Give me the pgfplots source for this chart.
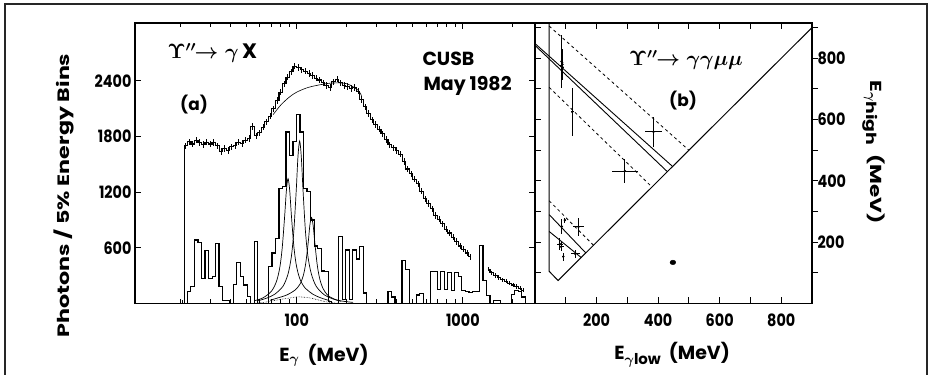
\documentclass[border=0pt]{standalone}
\usepackage{fontspec}
\usepackage{amsmath}
\usepackage{pgfplots}
\usepackage{pgfplotstable}
\pgfplotsset{compat=1.18}
\setmainfont{Poppins}
\newfontfamily\tickfont{Poppins}[FakeStretch=0.85]
\newfontfamily\vfont{Poppins}[FakeStretch=1.35]

% inclusive photon spectrum (bin centres, counts)
\pgfplotstableread{
x y
20.5 0
21.4 1700
22.5 1745
23.6 1720
24.8 1760
26.0 1735
27.3 1715
28.7 1740
30.1 1720
31.6 1735
33.2 1700
34.9 1640
36.6 1670
38.5 1650
40.4 1690
42.4 1705
44.5 1740
46.8 1725
49.1 1760
51.5 1780
54.1 1910
56.8 1810
59.7 1840
62.7 1900
65.8 1960
69.1 2020
72.5 2100
76.2 2190
80.0 2280
84.0 2370
88.2 2440
92.6 2500
97.2 2560
102.1 2545
107.2 2520
112.5 2505
118.2 2480
124.1 2460
130.3 2430
136.8 2410
143.6 2380
150.8 2350
158.4 2330
166.3 2390
174.6 2420
183.3 2380
192.5 2350
202.1 2340
212.2 2320
222.8 2330
234.0 2290
245.7 2200
258.0 2120
270.9 2050
284.4 1980
298.6 1930
313.6 1880
329.2 1830
345.7 1770
363.0 1710
381.1 1680
400.2 1650
420.2 1610
441.2 1530
463.3 1450
486.4 1400
510.7 1340
536.3 1290
563.1 1210
591.3 1130
620.8 1080
651.9 1020
684.5 950
718.7 910
754.6 860
792.4 800
832.0 760
873.6 715
917.3 670
963.1 620
1011.3 585
1061.9 545
1115.0 505
}\specA
\pgfplotstableread{
x y
1423 370
1494 330
1569 300
1647 280
1730 255
1816 240
1907 220
2002 200
2102 185
2208 165
2318 145
}\specB
% background-subtracted histogram (left bin edges, counts)
\pgfplotstableread{
x y
20.9 0
21.9 127
23.0 181
24.2 685
25.4 658
26.7 270
28.0 570
29.4 270
30.9 290
32.4 650
34.0 181
35.7 36
37.5 30
39.4 0
41.4 208
43.4 440
45.6 290
47.9 200
50.3 75
52.8 0
55.5 667
58.2 0
61.1 0
64.2 0
67.4 400
70.8 545
74.3 700
78.0 1243
81.9 1260
86.0 1850
90.3 1600
94.8 1750
99.6 2040
104.5 1850
109.8 1240
115.3 1210
121.0 900
127.1 620
133.4 590
140.1 350
147.1 345
154.5 20
162.2 0
170.3 0
178.8 725
187.8 40
197.2 577
207.0 40
217.4 577
228.2 480
239.6 613
251.6 113
264.2 0
354.1 127
371.8 70
390.4 0
430.4 462
451.9 365
474.5 0
523.1 92
549.3 108
576.8 0
635.9 345
667.7 345
701.1 150
736.1 345
772.9 150
811.6 330
852.1 140
894.8 330
939.5 290
986.5 140
1035.8 130
1087.6 120
1141.9 130
1199.0 130
1259.0 625
1321.9 250
1388.0 90
1457.4 0
1530.3 30
1687.2 0
1953.1 100
2050.7 140
2153.3 130
2261.0 70
2374.0 0
2600.0 0
}\histA
% panel (b) events
\pgfplotstableread{
x y ex ey
86 790 3 86
88 786 3 45
85 775 3 40
90 770 3 35
89 780 2 50
121 625 5 78
385 560 28 48
292 432 43 40
87 251 5 25
97 272 4 8
141 250 17 29
81 194 11 21
85 185 8 15
92 153 3 13
131 162 14 14
}\eventsB

\begin{document}
\begin{tikzpicture}
\path[use as bounding box] (0,0) rectangle (933bp,375bp);
\draw[line width=1.2bp, black!85] (5bp,0) -- (5bp,371bp) -- (927bp,371bp) -- (927bp,0);

\begin{axis}[
  at={(135bp,71.5bp)}, anchor=south west,
  scale only axis, width=400bp, height=280.5bp,
  xmode=log, xmin=10.6, xmax=2720, ymin=0, ymax=3025,
  xtick={100,1000}, xticklabels={100,1000},
  minor xtick={20,30,40,50,60,70,80,90,200,300,400,500,600,700,800,900,2000},
  ytick={600,1200,1800,2400},
  tick align=inside,
  major tick length=6bp, minor tick length=4.5bp,
  axis line style={line width=1.2bp},
  tick style={line width=1bp, black},
  /pgf/number format/1000 sep={},
  /pgf/number format/assume math mode=true,
  tick label style={font=\tickfont\bfseries\fontsize{17}{17}\selectfont},
  xticklabel style={yshift=-7bp},
  xlabel={E$_{\boldsymbol{\gamma}}$\ \ (MeV)},
  xlabel style={at={(axis description cs:0.4725,-0.184)}, anchor=center, font=\bfseries\fontsize{19}{19}\selectfont},
  ylabel={Photons / 5\% Energy Bins},
  ylabel style={at={(axis description cs:-0.178,0.385)}, anchor=center, font=\vfont\bfseries\fontsize{16.5}{16.5}\selectfont},
]
\addplot[black, line width=1.1bp, const plot mark mid,
  error bars/.cd, y dir=both, y fixed=34, error mark=none,
  error bar style={line width=0.7bp}] table[x=x,y=y] {\specA};
\addplot[black, line width=1.1bp, const plot mark mid,
  error bars/.cd, y dir=both, y fixed=24, error mark=none,
  error bar style={line width=0.7bp}] table[x=x,y=y] {\specB};
\addplot[black, line width=1.2bp, const plot] table[x=x,y=y] {\histA};
% smooth background under the spectrum
\addplot[black, line width=0.6bp, smooth] coordinates {
 (72,2037) (80,2140) (90,2225) (100,2280) (117,2330) (141,2362) (165,2378) (200,2370) (234,2300) (245,2240)};
% fitted lines
\addplot[black, line width=0.7bp, smooth] coordinates {
 (55.8,31) (62.7,62) (70.3,132) (75.3,235) (78.9,383) (81.6,594) (84.5,945) (86.5,1215) (88.5,1347)
 (90.6,1220) (92.7,955) (96.0,613) (99.3,414) (104.0,272) (111.4,174) (125.0,100) (140.3,59) (157.4,31)};
\addplot[black, line width=0.7bp, smooth] coordinates {
 (58.5,30) (65.6,57) (73.6,100) (82.6,187) (88.5,318) (92.7,506) (95.9,779) (99.3,1236) (101.6,1586) (104,1752)
 (106.4,1583) (108.9,1232) (112.7,779) (116.7,506) (122.3,319) (131.0,184) (147,91) (164.8,50) (185,24)};
\addplot[black, line width=0.7bp, smooth] coordinates {
 (68.9,34) (77.4,62) (86.8,91) (97.4,144) (104.3,207) (109.3,299) (113.2,435) (117.2,664) (119.8,844) (122.6,928)
 (125.5,838) (128.4,653) (132.8,413) (137.5,264) (144.0,160) (154.3,85) (173.1,39) (194.3,22) (218,12)};
\addplot[black, line width=0.6bp, densely dotted, smooth] coordinates {
 (55,0) (62,10) (70,25) (80,45) (90,58) (100,72) (110,68) (120,60) (135,38) (150,18) (170,5) (190,0)};
\end{axis}

\begin{axis}[
  at={(535bp,71.5bp)}, anchor=south west,
  scale only axis, width=277bp, height=280.5bp,
  xmin=0, xmax=900, ymin=0, ymax=915,
  xtick={200,400,600,800}, minor xtick={100,300,500,700},
  ytick={100,200,...,900}, yticklabels={}, ytick pos=left,
  tick align=inside,
  major tick length=6bp, minor tick length=6bp,
  axis line style={line width=1.2bp},
  tick style={line width=1bp, black},
  /pgf/number format/assume math mode=true,
  tick label style={font=\tickfont\bfseries\fontsize{17}{17}\selectfont},
  xticklabel style={yshift=-7bp},
  xlabel={E\raisebox{-0.45ex}{\fontsize{15}{15}\selectfont$\boldsymbol{\gamma}$low}\ \ (MeV)},
  xlabel style={at={(axis description cs:0.495,-0.184)}, anchor=center, font=\bfseries\fontsize{19}{19}\selectfont},
]
\addplot[black, line width=1bp] coordinates {(46,915) (46,105) (75,75) (900,900)};
\addplot[black, line width=0.8bp, dashed] coordinates {(46,905) (500,500)};
\addplot[black, line width=0.9bp] coordinates {(0,848) (447,447)};
\addplot[black, line width=0.9bp] coordinates {(0,842) (430,430)};
\addplot[black, line width=0.8bp, dashed] coordinates {(46,705) (380,380)};
\addplot[black, line width=0.8bp, dashed] coordinates {(46,335) (190,190)};
\addplot[black, line width=0.9bp] coordinates {(46,290) (165,165)};
\addplot[black, line width=0.9bp] coordinates {(46,235) (150,150)};
\addplot[black, only marks, mark=*, mark size=1bp,
  error bars/.cd, x dir=both, x explicit, y dir=both, y explicit, error mark=none,
  error bar style={line width=1bp}] table[x=x,y=y,x error=ex,y error=ey] {\eventsB};
\addplot[black, only marks, mark=*, mark size=2.3bp, mark options={xscale=1.25}] coordinates {(448,134)};
\end{axis}

\begin{axis}[
  at={(535bp,71.5bp)}, anchor=south west,
  scale only axis, width=277bp, height=280.5bp,
  xmin=0, xmax=900, ymin=0, ymax=915,
  axis x line=none, axis y line*=right,
  ytick={200,400,600,800}, minor ytick={100,300,500,700,900},
  tick align=outside,
  major tick length=6bp, minor tick length=6bp,
  axis line style={line width=1.2bp},
  tick style={line width=1bp, black},
  /pgf/number format/assume math mode=true,
  tick label style={font=\tickfont\bfseries\fontsize{17}{17}\selectfont},
  yticklabel style={xshift=-4bp},
]
\addplot[draw=none] coordinates {(0,0)};
\end{axis}

\node[anchor=center, rotate=-90, font=\vfont\bfseries\fontsize{16}{16}\selectfont] at (874bp,223bp)
  {E\raisebox{-0.45ex}{\fontsize{14}{14}\selectfont$\boldsymbol{\gamma}$high}\ \ (MeV)};
\node[anchor=west, font=\bfseries\fontsize{21}{21}\selectfont] at (164bp,322bp) {$\boldsymbol{\Upsilon''\!\!\rightarrow\gamma}$\,X};
\node[anchor=center, font=\bfseries\fontsize{17}{17}\selectfont] at (194bp,270bp) {(a)};
\node[anchor=west, font=\bfseries\fontsize{19}{19}\selectfont] at (419bp,316bp) {CUSB};
\node[anchor=west, font=\bfseries\fontsize{19}{19}\selectfont] at (420bp,289bp) {May 1982};
\node[anchor=center, font=\bfseries\fontsize{21}{21}\selectfont] at (686bp,315bp) {$\boldsymbol{\Upsilon''\!\!\rightarrow\gamma\gamma\mu\mu}$};
\node[anchor=center, font=\bfseries\fontsize{17}{17}\selectfont] at (683bp,274bp) {(b)};
\end{tikzpicture}
\end{document}
